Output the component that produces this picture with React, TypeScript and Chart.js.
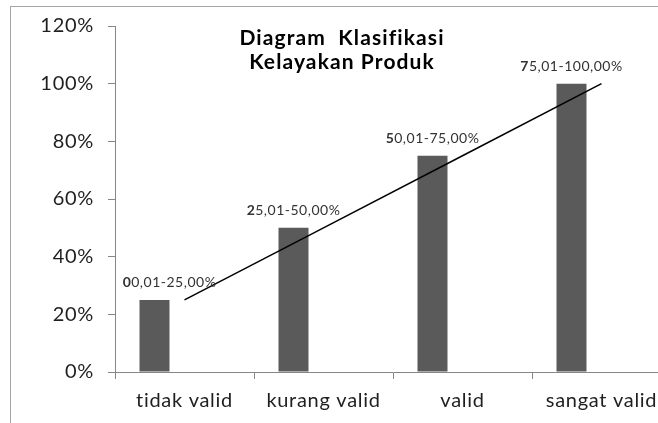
import React, { useEffect, useRef } from "react";
import { Chart, registerables } from "chart.js";

Chart.register(...registerables);

const categories = ["tidak valid", "kurang valid", "valid", "sangat valid"];
const barValues = [25, 50, 75, 100];
const emptySeries = [null, null, null, null];
const trendValues = [25, 50, 75, 100];
const rangeLabels = ["00,01-25,00%", "25,01-50,00%", "50,01-75,00%", "75,01-100,00%"];
const titleLines = ["Diagram  Klasifikasi", "Kelayakan Produk"];
const yMax = 120;
const yStep = 20;

const FONT = "Lato, 'DejaVu Sans', sans-serif";

const spacingPlugin = {
  id: "spacing",
  beforeUpdate(chart: any) {
    (chart.ctx as any).letterSpacing = "0.7px";
  },
  beforeDraw(chart: any) {
    (chart.ctx as any).letterSpacing = "0.7px";
  },
};

const overlayPlugin = {
  id: "overlay",
  afterDatasetsDraw(chart: any) {
    const ctx = chart.ctx as any;
    const meta = chart.getDatasetMeta(0);
    const shifts = [15, 0, 0, 0];
    ctx.save();
    ctx.letterSpacing = "0.5px";
    ctx.textBaseline = "middle";
    ctx.textAlign = "left";
    ctx.fillStyle = "#333333";
    meta.data.forEach((el: any, i: number) => {
      const text = rangeLabels[i];
      const first = text.slice(0, 1);
      const rest = text.slice(1);
      ctx.font = `bold 14px ${FONT}`;
      const w1 = ctx.measureText(first).width;
      ctx.font = `14px ${FONT}`;
      const w2 = ctx.measureText(rest).width;
      const cx = el.x + shifts[i];
      const x0 = cx - (w1 + w2) / 2;
      const y = el.y - 17;
      ctx.font = `bold 14px ${FONT}`;
      ctx.fillText(first, x0, y);
      ctx.font = `14px ${FONT}`;
      ctx.fillText(rest, x0 + w1, y);
    });
    ctx.letterSpacing = "1.1px";
    ctx.font = `bold 21px ${FONT}`;
    ctx.fillStyle = "#000000";
    ctx.textAlign = "center";
    titleLines.forEach((line, i) => {
      ctx.fillText(line, 342, 38 + i * 24);
    });
    ctx.restore();
  },
};

export default function App() {
  const ref = useRef<HTMLCanvasElement | null>(null);

  useEffect(() => {
    if (!ref.current) return;
    const barCommon = {
      type: "bar",
      backgroundColor: "#5a5a5a",
      borderWidth: 0,
      categoryPercentage: 0.6475,
      barPercentage: 1,
      order: 2,
    };
    const chart = new Chart(ref.current, {
      type: "bar",
      data: {
        labels: categories,
        datasets: [
          { ...barCommon, data: barValues } as any,
          { ...barCommon, data: emptySeries } as any,
          { ...barCommon, data: emptySeries } as any,
          {
            type: "line",
            data: trendValues,
            borderColor: "#000000",
            borderWidth: 1.5,
            pointRadius: 0,
            fill: false,
            tension: 0,
            order: 1,
          } as any,
        ],
      },
      options: {
        responsive: false,
        animation: false,
        layout: { padding: { left: 0, right: 9, top: 25, bottom: 0 } },
        plugins: {
          legend: { display: false },
          tooltip: { enabled: false },
          title: { display: false },
        },
        scales: {
          x: {
            grid: {
              display: true,
              drawOnChartArea: false,
              drawTicks: true,
              tickLength: 7,
              color: "#868686",
              offset: true,
            },
            border: { color: "#868686", width: 1 },
            ticks: {
              color: "#1f1f1f",
              font: { family: FONT, size: 20 },
              padding: 10,
              maxRotation: 0,
              autoSkip: false,
            },
            afterFit: (s: any) => {
              s.height = 51;
            },
          },
          y: {
            min: 0,
            max: yMax,
            grid: {
              drawOnChartArea: false,
              drawTicks: true,
              tickLength: 7,
              color: "#868686",
            },
            border: { color: "#868686", width: 1 },
            ticks: {
              stepSize: yStep,
              callback: (v: any) => `${v}%`,
              color: "#1f1f1f",
              font: { family: FONT, size: 20 },
              padding: 14,
            },
            afterFit: (s: any) => {
              s.width = 115;
            },
          },
        },
      } as any,
      plugins: [spacingPlugin, overlayPlugin],
    });
    return () => chart.destroy();
  }, []);

  return (
    <div
      style={{
        position: "fixed",
        left: 0,
        top: 0,
        width: 658,
        height: 423,
        overflow: "hidden",
        background: "#ffffff",
      }}
    >
      <div
        style={{
          position: "absolute",
          left: 10,
          top: 6,
          width: 720,
          height: 520,
          border: "1px solid #a6a6a6",
        }}
      />
      <canvas
        ref={ref}
        width={680}
        height={423}
        style={{ position: "absolute", left: 0, top: 0, width: 680, height: 423 }}
      />
    </div>
  );
}
